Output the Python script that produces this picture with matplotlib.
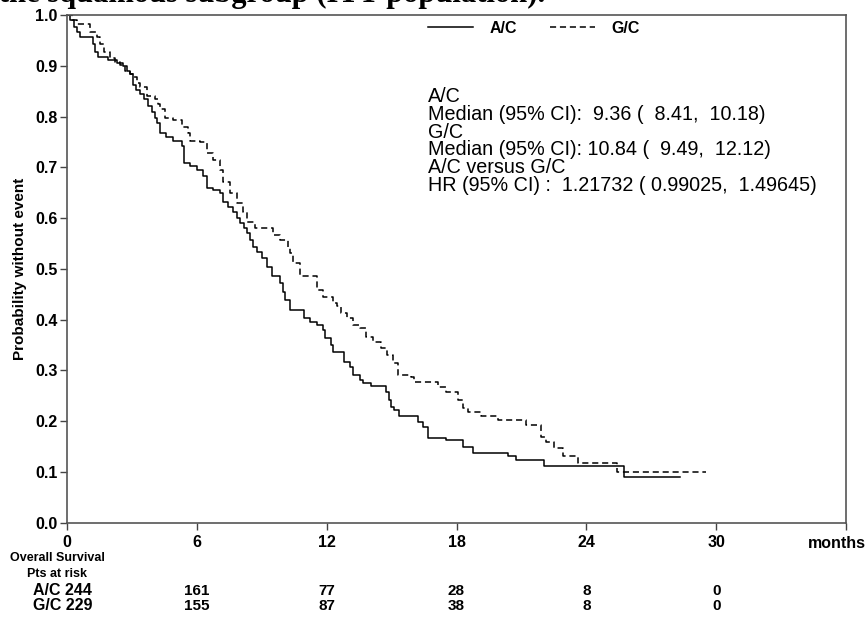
import matplotlib.pyplot as plt

plt.rcParams['font.family'] = ['Liberation Sans', 'DejaVu Sans']

# Kaplan-Meier steps: time (months) and survival after each drop
ac_t = [0, 0.14, 0.32, 0.46, 0.60, 1.20, 1.30, 1.44, 1.90, 2.31, 2.59, 2.78, 2.92, 3.06, 3.19,
        3.38, 3.56, 3.75, 3.94, 4.07, 4.17, 4.31, 4.58, 4.91, 5.32, 5.42, 5.69, 6.02, 6.30,
        6.48, 6.76, 7.08, 7.22, 7.45, 7.69, 7.87, 8.01, 8.19, 8.33, 8.47, 8.61, 8.80, 9.03,
        9.26, 9.49, 9.86, 10.00, 10.09, 10.32, 10.93, 11.25, 11.57, 11.85, 11.94, 12.18,
        12.31, 12.78, 13.10, 13.24, 13.56, 13.70, 14.03, 14.72, 14.86, 14.95, 15.09, 15.32,
        16.20, 16.44, 16.67, 17.50, 18.29, 18.75, 20.37, 20.74, 22.04, 25.74, 28.33]
ac_s = [1.0, 0.991, 0.976, 0.966, 0.956, 0.942, 0.928, 0.918, 0.912, 0.906, 0.899, 0.889,
        0.883, 0.863, 0.853, 0.844, 0.834, 0.820, 0.808, 0.798, 0.788, 0.768, 0.760, 0.751,
        0.741, 0.709, 0.703, 0.695, 0.682, 0.660, 0.656, 0.650, 0.632, 0.622, 0.611, 0.601,
        0.591, 0.581, 0.571, 0.557, 0.544, 0.534, 0.522, 0.504, 0.485, 0.473, 0.455, 0.439,
        0.419, 0.404, 0.395, 0.389, 0.380, 0.364, 0.350, 0.337, 0.316, 0.307, 0.291, 0.282,
        0.276, 0.270, 0.258, 0.242, 0.228, 0.222, 0.210, 0.198, 0.188, 0.166, 0.162, 0.150,
        0.138, 0.131, 0.124, 0.112, 0.090, 0.090]

gc_t = [0, 0.23, 0.46, 1.06, 1.39, 1.53, 1.71, 1.99, 2.22, 2.45, 2.69, 2.92, 3.06, 3.24, 3.38,
        3.70, 4.07, 4.21, 4.31, 4.54, 4.91, 5.32, 5.60, 5.69, 6.16, 6.48, 6.76, 7.08, 7.22,
        7.55, 7.87, 8.15, 8.33, 8.70, 9.54, 9.86, 10.19, 10.32, 10.46, 10.79, 11.57, 11.85,
        12.31, 12.50, 12.64, 12.96, 13.24, 13.56, 13.80, 14.12, 14.49, 14.81, 15.05, 15.28,
        15.88, 16.02, 17.13, 17.50, 18.06, 18.29, 18.52, 19.12, 19.91, 21.20, 21.90, 22.13,
        22.50, 22.92, 23.61, 25.42, 29.54]
gc_s = [1.0, 0.991, 0.982, 0.966, 0.956, 0.942, 0.928, 0.916, 0.908, 0.901, 0.889, 0.883,
        0.877, 0.867, 0.859, 0.840, 0.834, 0.824, 0.814, 0.798, 0.794, 0.780, 0.768, 0.751,
        0.749, 0.729, 0.715, 0.695, 0.672, 0.650, 0.630, 0.611, 0.593, 0.581, 0.567, 0.557,
        0.544, 0.532, 0.512, 0.485, 0.459, 0.445, 0.433, 0.426, 0.414, 0.403, 0.390, 0.384,
        0.366, 0.355, 0.345, 0.331, 0.315, 0.291, 0.287, 0.278, 0.267, 0.258, 0.242, 0.226,
        0.219, 0.210, 0.203, 0.193, 0.168, 0.158, 0.148, 0.132, 0.118, 0.100, 0.100]

risk_times = [0, 6, 12, 18, 24, 30]
ac_risk = [244, 161, 77, 28, 8, 0]
gc_risk = [229, 155, 87, 38, 8, 0]
x_ticks = [0, 6, 12, 18, 24, 30, 36]
x_labels = ['0', '6', '12', '18', '24', '30', '']

stats_lines = ['A/C',
               'Median (95% CI):  9.36 (  8.41,  10.18)',
               'G/C',
               'Median (95% CI): 10.84 (  9.49,  12.12)',
               'A/C versus G/C',
               'HR (95% CI) :  1.21732 ( 0.99025,  1.49645)']

fig = plt.figure(figsize=(8.65, 6.19), dpi=100)
ax = fig.add_axes([67/865, 1 - 522.7/619, (846-67)/865, (522.7-15)/619])

ax.plot(ac_t, ac_s, drawstyle='steps-post', color='black', lw=1.1, label='A/C')
ax.plot(gc_t, gc_s, drawstyle='steps-post', color='black', lw=1.1,
        linestyle=(0, (4, 2.5)), label='G/C')

ax.set_xlim(0, 36)
ax.set_ylim(0, 1.0)
ax.set_xticks(x_ticks)
ax.set_xticklabels(x_labels, fontweight='bold', fontsize=11.5)
ax.set_yticks([i / 10 for i in range(11)])
ax.set_yticklabels([f'{i/10:.1f}' for i in range(11)], fontweight='bold', fontsize=11.5)
ax.tick_params(direction='out', length=5, width=1, color='#444', pad=2)
ax.tick_params(axis='x', pad=4)
for sp in ax.spines.values():
    sp.set_color('#555')
    sp.set_linewidth(1.2)
ax.set_ylabel('Probability without event', fontweight='bold', fontsize=11, labelpad=6)

tr = ax.get_xaxis_transform()
ax.text(35.58, -0.04, 'months', transform=tr, ha='center', va='center',
        fontsize=11.5, fontweight='bold', clip_on=False)

ax.legend(loc='center', bbox_to_anchor=(0.5995, 0.9734), ncol=2, frameon=False,
          handlelength=2.8, handletextpad=1.05, columnspacing=2.1,
          prop={'weight': 'bold', 'size': 11.5})

ax.text(0.463, 0.858, '\n'.join(stats_lines), transform=ax.transAxes, fontsize=14.2,
        va='top', ha='left', linespacing=0.92)

# risk table below the axis
ax.text(-0.45, -0.0695, 'Overall Survival', transform=tr, ha='center', va='center',
        fontsize=9, fontweight='bold', clip_on=False)
ax.text(-0.45, -0.101, 'Pts at risk', transform=tr, ha='center', va='center',
        fontsize=9, fontweight='bold', clip_on=False)
for row_y, name, counts in [(-0.134, 'A/C', ac_risk), (-0.164, 'G/C', gc_risk)]:
    ax.text(-0.2, row_y, f'{name} {counts[0]}', transform=tr, ha='center', va='center',
            fontsize=11.5, fontweight='bold', clip_on=False)
    for t, n in zip(risk_times[1:], counts[1:]):
        ax.text(t, row_y, str(n), transform=tr, ha='center', va='center',
                fontsize=11, fontweight='bold', clip_on=False)

fig.text(545/865, 1 - 2/619, 'Figure 3: Kaplan-Meier plot of overall survival for the squamous subgroup (ITT population).',
         ha='right', va='baseline', fontsize=22, fontweight='bold', family='Liberation Serif')

fig.savefig('out.png', dpi=100)
